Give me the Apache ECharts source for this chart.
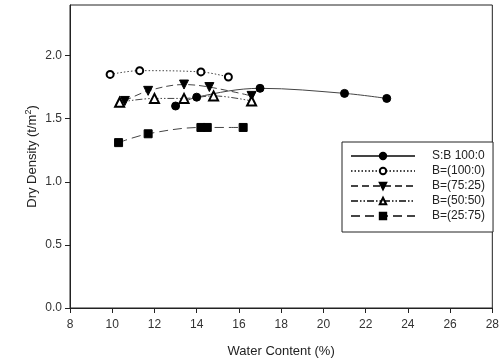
<!DOCTYPE html>
<html><head><meta charset="utf-8">
<script src="https://cdn.jsdelivr.net/npm/echarts@6/dist/echarts.min.js"></script>
<style>html,body{margin:0;padding:0;background:#fff}#c{width:502px;height:363px}</style>
</head><body><div id="c"></div>
<script>
const seriesNames = ['S:B 100:0', 'B=(100:0)', 'B=(75:25)', 'B=(50:50)', 'B=(25:75)'];
const sb100 = [[13.0, 1.60], [14.0, 1.67], [17.0, 1.74], [21.0, 1.70], [23.0, 1.66]];
const b100 = [[9.9, 1.85], [11.3, 1.88], [14.2, 1.87], [15.5, 1.83]];
const b75 = [[10.6, 1.64], [11.7, 1.72], [13.4, 1.77], [14.6, 1.75], [16.6, 1.68]];
const b50 = [[10.35, 1.63], [12.0, 1.66], [13.4, 1.66], [14.8, 1.68], [16.6, 1.64]];
const b25 = [[10.3, 1.31], [11.7, 1.38], [14.2, 1.43], [14.5, 1.43], [16.2, 1.43]];
const xTicks = [8, 10, 12, 14, 16, 18, 20, 22, 24, 26, 28];
const yTicks = [0, 0.5, 1.0, 1.5, 2.0];

const font = 'Liberation Sans, Arial, sans-serif';
const chart = echarts.init(document.getElementById('c'));
function mk(name, data, symbol, size, lineType, rotate) {
  return {
    name, type: 'line', data, symbol, symbolSize: size, symbolRotate: rotate || 0,
    smooth: 0.35,
    lineStyle: { color: '#444', width: 1, type: lineType },
    itemStyle: { color: '#000', borderColor: '#000', borderWidth: 1 },
    emphasis: { disabled: true }, animation: false
  };
}
chart.setOption({
  animation: false,
  grid: { left: 70, top: 5, right: 9, bottom: 53, show: true, borderColor: '#222', borderWidth: 1 },
  xAxis: {
    type: 'value', min: 8, max: 28, interval: 2,
    name: 'Water Content (%)', nameLocation: 'middle', nameGap: 37, nameMoveOverlap: false,
    nameTextStyle: { fontFamily: font, fontSize: 13, color: '#222' },
    axisLine: { lineStyle: { color: '#222' } },
    axisTick: { show: true, inside: false, length: 5, lineStyle: { color: '#222' }, customValues: xTicks },
    axisLabel: { fontFamily: font, fontSize: 12, color: '#333', margin: 11, customValues: xTicks },
    splitLine: { show: false }
  },
  yAxis: {
    type: 'value', min: 0, max: 2.4,
    name: '{a|Dry Density (t/m}{s|2}{a|)}', nameLocation: 'middle', nameGap: 29, nameMoveOverlap: false,
    nameTextStyle: { rich: { a: { fontFamily: font, fontSize: 13, color: '#222' }, s: { fontFamily: font, fontSize: 9, color: '#222', verticalAlign: 'bottom', padding: [0, 0, 8, 0] } } },
    axisLine: { show: true, lineStyle: { color: '#222' } },
    axisTick: { show: true, length: 5, lineStyle: { color: '#222' }, customValues: yTicks },
    axisLabel: { fontFamily: font, fontSize: 12, color: '#333', margin: 8, customValues: yTicks, formatter: v => v.toFixed(1) },
    splitLine: { show: false }
  },
  legend: {
    orient: 'vertical', left: 342, top: 142,
    padding: [8, 8, 10, 8], itemGap: 3, itemWidth: 64, itemHeight: 8,
    backgroundColor: '#fff', borderColor: '#222', borderWidth: 1, borderRadius: 0,
    textStyle: { fontFamily: font, fontSize: 12, color: '#222', padding: [0, 0, 0, 12] },
    data: seriesNames
  },
  series: [
    mk(seriesNames[0], sb100, 'circle', 8, 'solid'),
    mk(seriesNames[1], b100, 'emptyCircle', 7, [1.5, 2]),
    mk(seriesNames[2], b75, 'triangle', 9, [7, 4], 180),
    mk(seriesNames[3], b50, 'emptyTriangle', 9, [7, 2, 1.5, 2, 1.5, 2]),
    mk(seriesNames[4], b25, 'rect', 8, [9, 5])
  ]
});
</script></body></html>
